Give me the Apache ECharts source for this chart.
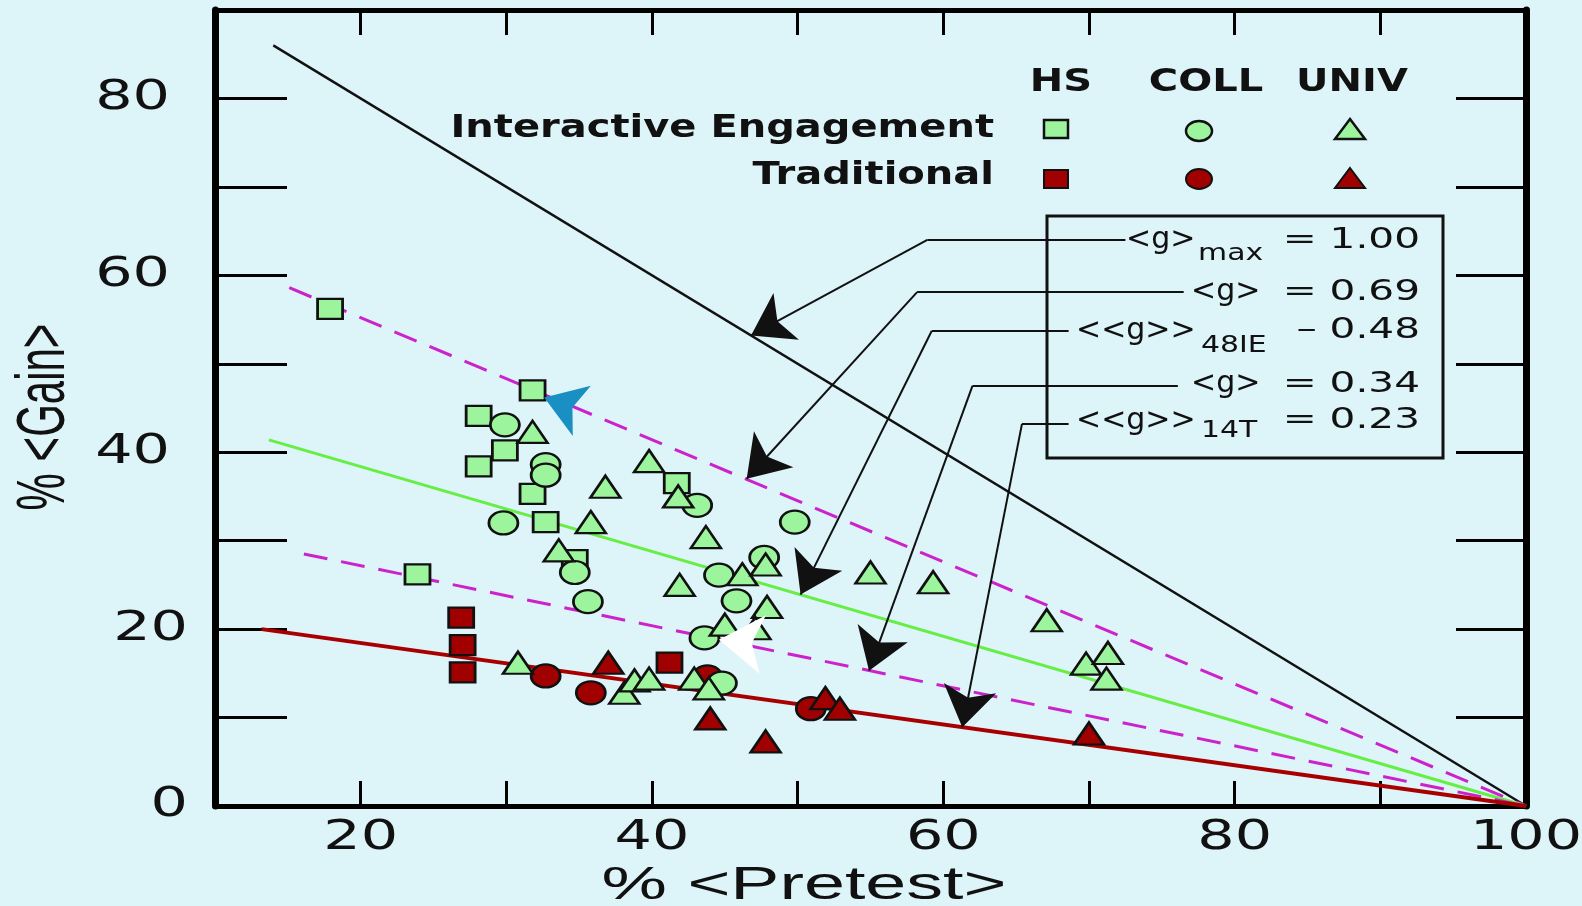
<!DOCTYPE html>
<html><head><meta charset="utf-8">
<script src="https://cdn.jsdelivr.net/npm/echarts@6.0.0/dist/echarts.min.js"></script>
<style>html,body{margin:0;padding:0;background:#ddf4f9}#c{width:1582px;height:906px}</style>
</head><body><div id="c"></div><script>
// Data: [pretest %, gain %]
const ieHS = [[17.9,56.2],[31.8,47.0],[28.1,44.1],[29.9,40.2],[28.1,38.4],[31.8,35.3],[32.7,32.1],[34.7,27.8],[23.9,26.2],[41.7,36.5]];
const ieCOLL = [[29.9,43.1],[32.7,38.6],[32.7,37.4],[29.8,32.0],[43.1,34.0],[49.8,32.1],[34.7,26.4],[47.7,28.1],[35.6,23.1],[44.6,26.1],[45.8,23.2],[43.6,19.0],[44.8,13.9]];
const ieUNIV = [[31.8,42.3],[39.8,39.0],[36.8,36.1],[35.8,32.1],[33.6,28.9],[41.8,35.0],[43.7,30.4],[41.9,25.0],[46.2,26.2],[47.8,27.3],[47.9,22.5],[45.0,20.5],[47.1,20.1],[55.0,26.4],[59.3,25.3],[67.1,21.0],[69.8,16.1],[71.3,17.3],[71.2,14.4],[30.8,16.2],[38.1,12.8],[38.8,14.2],[39.8,14.4],[42.9,14.4],[43.9,13.3]];
const trHS = [[26.9,21.3],[27.0,18.2],[27.0,15.1],[41.2,16.2]];
const trCOLL = [[32.7,14.7],[35.8,12.8],[50.9,11.0],[43.8,14.6]];
const trUNIV = [[37.0,16.2],[44.0,9.9],[47.8,7.3],[51.9,12.2],[52.9,11.0],[70.0,8.2]];
// g-lines endpoints
const gMax = [[14.0,86.0],[100,0]];
const g069 = [[15.1,58.6],[100,0]];
const g048 = [[13.7,41.4],[100,0]];
const g034 = [[16.1,28.5],[100,0]];
const g023 = [[13.2,20.0],[100,0]];
// annotation arrows (data coords): start, bend, tip
const arrows = [
  [[72.5,64.0],[58.9,64.0],[46.8,53.2]],
  [[76.5,58.1],[58.2,58.1],[46.5,37.0]],
  [[68.6,53.7],[59.2,53.7],[50.2,23.9]],
  [[76.1,47.5],[62.0,47.5],[54.9,15.3]],
  [[68.6,43.2],[65.4,43.2],[61.3,8.9]]
];
const cursorArrows = [[[35.8,44.3],[32.6,46.2]]];
const whiteArrows = [[[49.6,17.9],[44.6,18.8]]];
const xLabels = [20,40,60,80,100];
const yLabels = [0,20,40,60,80];
const yLabelGap = [27,27,45,45,45];

const LG = '#9cf59c', DR = '#a00000';
const chart = echarts.init(document.getElementById('c'));
function sc(name,data,sym,size,color){
  return {type:'scatter',name,data,symbol:sym,symbolSize:size,z:5,
    itemStyle:{color,borderColor:'#111',borderWidth:2.5,opacity:1}};
}
function ln(data,color,w,type){
  return {type:'line',data,symbol:'none',z:3,silent:true,
    lineStyle:{color,width:w,type:type||'solid'}};
}
const font = 'DejaVu Sans';
const txt = (x,y,t,size,align,weight,sx,ff)=>({type:'text',x,y,scaleX:sx||1,z:20,style:{text:t,fill:'#111',font:(weight||'normal')+' '+size+'px "'+(ff||font)+'"',textAlign:align||'left',textVerticalAlign:'middle'}});
const axisCommon = {min:10,max:100,interval:10};
const yCommon = {min:0,max:90,interval:10};
const line = w => ({show:true,onZero:false,lineStyle:{color:'#000',width:w}});
const tick = l => ({show:true,inside:true,length:l,lineStyle:{color:'#000',width:3}});
chart.setOption({
  backgroundColor:'#ddf4f9',
  animation:false,
  grid:{left:215,right:56,top:10,bottom:100,outerBoundsMode:'none',containLabel:false},
  xAxis:[
    {type:'value',...axisCommon,position:'bottom',axisLine:line(5),axisTick:tick(25),
     axisLabel:{show:false},splitLine:{show:false}},
    {type:'value',...axisCommon,position:'top',axisLine:line(5),axisTick:tick(25),
     axisLabel:{show:false},splitLine:{show:false}}
  ],
  yAxis:[
    {type:'value',...yCommon,position:'left',axisLine:line(7),axisTick:tick(72),
     axisLabel:{show:false},splitLine:{show:false}},
    {type:'value',...yCommon,position:'right',axisLine:line(7),axisTick:tick(70),
     axisLabel:{show:false},splitLine:{show:false}}
  ],
  series:[
    ln(gMax,'#111',2.4),
    ln(g069,'#cc22cc',3,[24,14]),
    ln(g048,'#66ee44',3),
    ln(g034,'#cc22cc',3,[24,14]),
    ln(g023,'#a80000',4),
    {type:'lines',coordinateSystem:'cartesian2d',z:4,silent:true,
     symbol:['none','none'],
     lineStyle:{color:'#111',width:2,opacity:1,curveness:0},
     data:arrows.map(c=>({coords:[c[0],c[1]]}))},
    {type:'lines',coordinateSystem:'cartesian2d',z:4,silent:true,
     symbol:['none','arrow'],symbolSize:[22,40],
     lineStyle:{color:'#111',width:2,opacity:1,curveness:0},
     data:arrows.map(c=>({coords:[c[1],c[2]]}))},
    sc('trHS',trHS,'rect',[25,20],DR),
    sc('trCOLL',trCOLL,'circle',[29,23],DR),
    sc('trUNIV',trUNIV,'triangle',[30,22],DR),
    sc('ieHS',ieHS,'rect',[25,20],LG),
    sc('ieCOLL',ieCOLL,'circle',[29,23],LG),
    sc('ieUNIV',ieUNIV,'triangle',[30,22],LG),
    {type:'lines',coordinateSystem:'cartesian2d',z:6,silent:true,
     symbol:['none','arrow'],symbolSize:[26,40],
     lineStyle:{color:'#1a8fc4',width:0,opacity:1},
     data:cursorArrows.map(c=>({coords:c}))},
    {type:'lines',coordinateSystem:'cartesian2d',z:6,silent:true,
     symbol:['none','arrow'],symbolSize:[18,44],
     lineStyle:{color:'#ffffff',width:0,opacity:1},
     data:whiteArrows.map(c=>({coords:c}))}
  ]
});
// tick labels placed through the axes' own scales
const g = [];
const yBase = chart.convertToPixel({yAxisIndex:0},0);
const xLeft = chart.convertToPixel({xAxisIndex:0},10);
xLabels.forEach(v=>{
  const px = chart.convertToPixel({xAxisIndex:0},v);
  g.push(txt(px,yBase+33,String(v),40,'center','normal',1.47));
});
yLabels.forEach((v,i)=>{
  const py = chart.convertToPixel({yAxisIndex:0},v);
  g.push(txt(xLeft-yLabelGap[i],py,String(v),40,'right','normal',1.47));
});
g.push(
  txt(1061,83,'HS',32,'center','bold',1.25),
  txt(1206,83,'COLL',32,'center','bold',1.25),
  txt(1352,83,'UNIV',32,'center','bold',1.25),
  txt(994,129,'Interactive Engagement',32,'right','bold',1.25),
  txt(994,176,'Traditional',32,'right','bold',1.25),
  {type:'rect',shape:{x:1044,y:120,width:24,height:18},style:{fill:LG,stroke:'#111',lineWidth:2.5}},
  {type:'ellipse',shape:{cx:1199,cy:131,rx:13,ry:10},style:{fill:LG,stroke:'#111',lineWidth:2.5}},
  {type:'polygon',shape:{points:[[1350,119],[1365,139],[1335,139]]},style:{fill:LG,stroke:'#111',lineWidth:2.5}},
  {type:'rect',shape:{x:1044,y:170,width:24,height:18},style:{fill:DR,stroke:'#111',lineWidth:2}},
  {type:'ellipse',shape:{cx:1199,cy:179,rx:13,ry:10},style:{fill:DR,stroke:'#111',lineWidth:2}},
  {type:'polygon',shape:{points:[[1350,168],[1365,188],[1335,188]]},style:{fill:DR,stroke:'#111',lineWidth:2}},
  {type:'rect',shape:{x:1047,y:216,width:396,height:242},style:{fill:'none',stroke:'#111',lineWidth:3},z:10},
  txt(1126,240,'<g>',30,'left'),
  txt(1198,254,'max',23,'left','normal',1.3),
  txt(1420,240,'= 1.00',29,'right','normal',1.4),
  txt(1191,292,'<g>',30,'left'),
  txt(1420,292,'= 0.69',29,'right','normal',1.4),
  txt(1076,331,'<<g>>',30,'left'),
  txt(1201,346,'48IE',23,'left','normal',1.3),
  txt(1420,330,'– 0.48',29,'right','normal',1.4),
  txt(1191,384,'<g>',30,'left'),
  txt(1420,384,'= 0.34',29,'right','normal',1.4),
  txt(1076,421,'<<g>>',30,'left'),
  txt(1201,431,'14T',23,'left','normal',1.3),
  txt(1420,420,'= 0.23',29,'right','normal',1.4),
  txt(804,886,'% <Pretest>',46,'center','normal',1.6,'Liberation Sans'),
  {type:'text',x:45,y:417,rotation:Math.PI/2,scaleY:1.65,z:20,
   style:{text:'% <Gain>',fill:'#111',font:'normal 42px "Liberation Sans"',textAlign:'center',textVerticalAlign:'middle'}}
);
chart.setOption({graphic:g});
</script></body></html>
